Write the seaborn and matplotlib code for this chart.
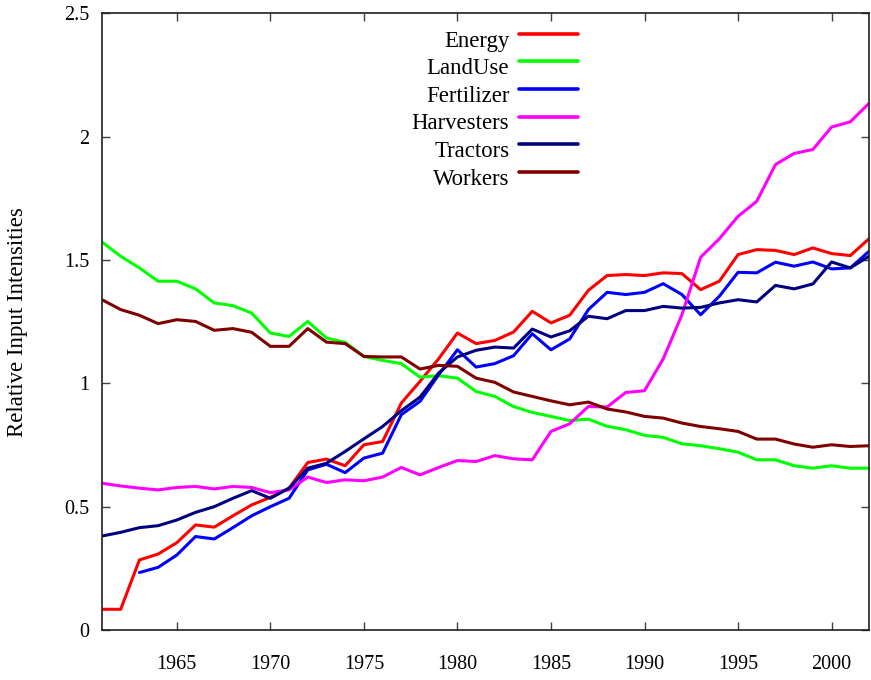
import numpy as np
import pandas as pd
import matplotlib
matplotlib.use("Agg")
import matplotlib.pyplot as plt
from matplotlib.ticker import FuncFormatter
from matplotlib.legend_handler import HandlerLine2D
import seaborn as sns

years = list(range(1961, 2003))

energy = [0.084, 0.084, 0.284, 0.308, 0.354, 0.426, 0.417, 0.463, 0.507, 0.538,
          0.575, 0.679, 0.693, 0.666, 0.751, 0.764, 0.920, 1.008, 1.100, 1.204,
          1.161, 1.174, 1.208, 1.292, 1.245, 1.276, 1.377, 1.437, 1.441, 1.437,
          1.448, 1.445, 1.380, 1.414, 1.522, 1.542, 1.539, 1.522, 1.549, 1.526,
          1.518, 1.586]
landuse = [1.573, 1.515, 1.468, 1.414, 1.414, 1.383, 1.326, 1.315, 1.285, 1.204,
           1.190, 1.251, 1.184, 1.166, 1.109, 1.093, 1.080, 1.025, 1.031, 1.021,
           0.967, 0.947, 0.906, 0.882, 0.866, 0.849, 0.855, 0.826, 0.812, 0.789,
           0.781, 0.755, 0.747, 0.735, 0.721, 0.690, 0.690, 0.666, 0.656, 0.666,
           0.656, 0.656]
fertilizer = [np.nan, np.nan, 0.233, 0.254, 0.304, 0.379, 0.369, 0.415, 0.463, 0.500,
              0.534, 0.649, 0.672, 0.638, 0.697, 0.717, 0.873, 0.927, 1.035, 1.136,
              1.066, 1.080, 1.112, 1.201, 1.136, 1.180, 1.299, 1.369, 1.360, 1.369,
              1.404, 1.360, 1.278, 1.353, 1.450, 1.448, 1.491, 1.475, 1.492, 1.464,
              1.468, 1.535]
harvesters = [0.595, 0.584, 0.575, 0.568, 0.578, 0.582, 0.572, 0.582, 0.578, 0.557,
              0.568, 0.620, 0.598, 0.609, 0.605, 0.620, 0.659, 0.629, 0.659, 0.687,
              0.683, 0.707, 0.694, 0.690, 0.805, 0.836, 0.906, 0.904, 0.963, 0.970,
              1.099, 1.278, 1.511, 1.586, 1.677, 1.738, 1.887, 1.932, 1.948, 2.039,
              2.060, 2.135]
tractors = [0.381, 0.396, 0.415, 0.423, 0.446, 0.477, 0.500, 0.534, 0.565, 0.534,
            0.575, 0.656, 0.676, 0.724, 0.775, 0.825, 0.889, 0.944, 1.042, 1.107,
            1.134, 1.147, 1.143, 1.220, 1.188, 1.213, 1.272, 1.262, 1.295, 1.295,
            1.312, 1.305, 1.308, 1.326, 1.339, 1.330, 1.397, 1.383, 1.403, 1.492,
            1.468, 1.515]
workers = [1.339, 1.299, 1.276, 1.242, 1.258, 1.251, 1.215, 1.222, 1.207, 1.150,
           1.150, 1.222, 1.167, 1.161, 1.109, 1.107, 1.107, 1.058, 1.073, 1.069,
           1.021, 1.004, 0.965, 0.947, 0.929, 0.913, 0.924, 0.896, 0.884, 0.866,
           0.859, 0.839, 0.825, 0.816, 0.805, 0.774, 0.774, 0.754, 0.741, 0.751,
           0.744, 0.747]

series_names = ["Energy", "LandUse", "Fertilizer", "Harvesters", "Tractors", "Workers"]
series_values = [energy, landuse, fertilizer, harvesters, tractors, workers]
series_colors = ["#ff0000", "#00ff00", "#0000ff", "#ff00ff", "#000080", "#800000"]

x_ticks = [1965, 1970, 1975, 1980, 1985, 1990, 1995, 2000]
y_ticks = [0, 0.5, 1, 1.5, 2, 2.5]

df = pd.concat(
    [pd.DataFrame({"Year": years, "Value": v, "Input": n})
     for n, v in zip(series_names, series_values)],
    ignore_index=True,
)

sns.set_theme(style="ticks")
plt.rcParams["font.family"] = ["Liberation Serif", "DejaVu Serif"]
plt.rcParams["xtick.direction"] = "in"
plt.rcParams["ytick.direction"] = "in"
plt.rcParams["text.color"] = "black"
plt.rcParams["xtick.labelcolor"] = "black"
plt.rcParams["ytick.labelcolor"] = "black"
plt.rcParams["axes.labelcolor"] = "black"


class RaisedLine(HandlerLine2D):
    """Legend sample drawn slightly above the text's centre line."""

    def create_artists(self, legend, orig_handle, xdescent, ydescent,
                       width, height, fontsize, trans):
        arts = super().create_artists(legend, orig_handle, xdescent, ydescent,
                                      width, height, fontsize, trans)
        for a in arts:
            a.set_ydata(np.asarray(a.get_ydata(), dtype=float) + 0.3 * height)
        return arts


fig = plt.figure(figsize=(8.71, 6.80), dpi=100)
ax = fig.add_axes([0.1171, 0.0735, 0.8806, 0.9069])

sns.lineplot(data=df, x="Year", y="Value", hue="Input",
             hue_order=series_names, palette=series_colors,
             linewidth=2.2, ax=ax, legend=False, estimator=None)

ax.set_xlim(1961, 2002)
ax.set_ylim(0, 2.5)
ax.set_xticks(x_ticks)
ax.set_yticks(y_ticks)
ax.yaxis.set_major_formatter(FuncFormatter(lambda v, p: f"{v:g}"))
ax.tick_params(axis="both", which="major", length=6, width=1, color="#404040",
               labelsize=14.5, top=True, right=True)
ax.tick_params(axis="x", pad=18)
ax.tick_params(axis="y", pad=9)
for s in ax.spines.values():
    s.set_linewidth(1.2)
    s.set_color("#202020")

ax.set_xlabel("")
ax.set_ylabel("Relative Input Intensities", fontsize=16.5)
ax.yaxis.set_label_coords(-0.096, 0.5)

handles = [plt.Line2D([], [], color=c, lw=2.6) for c in series_colors]
ax.legend(handles, series_names, loc="upper right",
          bbox_to_anchor=(0.62, 0.972), frameon=False, markerfirst=False,
          fontsize=16.4, handlelength=2.55, handletextpad=0.45,
          labelspacing=0.29, borderpad=0, borderaxespad=0,
          handler_map={plt.Line2D: RaisedLine()})

fig.savefig("out.png", dpi=100)
